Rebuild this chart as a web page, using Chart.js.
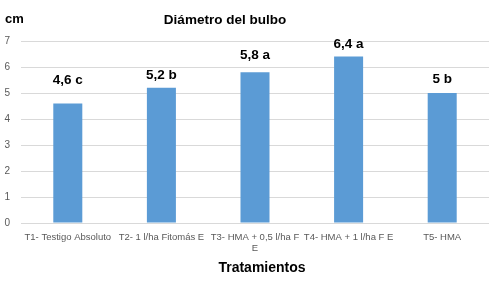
<!DOCTYPE html>
<html>
<head>
<meta charset="utf-8">
<script src="https://cdn.jsdelivr.net/npm/chart.js@4"></script>
<style>
html,body{margin:0;padding:0;background:#fff;}
#wrap{width:500px;height:290px;position:relative;}
</style>
</head>
<body>
<div id="wrap"><canvas id="c" width="500" height="290"></canvas></div>
<script>
const categories = [
  'T1- Testigo Absoluto',
  'T2- 1 l/ha Fitomás E',
  ['T3- HMA + 0,5 l/ha F', 'E'],
  'T4- HMA + 1 l/ha F E',
  'T5- HMA'
];
const values = [4.6, 5.2, 5.8, 6.4, 5.0];
const letters = ['c', 'b', 'a', 'a', 'b'];
const yTicks = [0, 1, 2, 3, 4, 5, 6, 7];

const chartTitle = 'Diámetro del bulbo';
const unitLabel = 'cm';
const xTitle = 'Tratamientos';

const tickFont = '"Liberation Sans", Arial, sans-serif';

const labelPlugin = {
  id: 'valueLabels',
  afterDatasetsDraw(chart, args, opts) {
    const ctx = chart.ctx;
    const meta = chart.getDatasetMeta(0);
    ctx.save();
    ctx.font = 'bold 13.5px "Liberation Sans", Arial, sans-serif';
    ctx.fillStyle = '#000';
    ctx.textAlign = 'center';
    ctx.textBaseline = 'middle';
    meta.data.forEach((bar, i) => {
      const v = values[i];
      const txt = String(v).replace('.', ',') + ' ' + letters[i];
      ctx.fillText(txt, bar.x, bar.y - opts.offsets[i]);
    });
    ctx.restore();
  }
};

const textPlugin = {
  id: 'headerTexts',
  afterDraw(chart) {
    const ctx = chart.ctx;
    ctx.save();
    ctx.fillStyle = '#000';
    ctx.textBaseline = 'middle';
    ctx.font = 'bold 13.5px "Liberation Sans", Arial, sans-serif';
    ctx.textAlign = 'center';
    ctx.fillText(chartTitle, 225, 20);
    ctx.font = 'bold 14px "Liberation Sans", Arial, sans-serif';
    ctx.fillText(xTitle, 262, 268);
    ctx.font = 'bold 13px "Liberation Sans", Arial, sans-serif';
    ctx.textAlign = 'left';
    ctx.fillText(unitLabel, 5, 19);
    ctx.restore();
  }
};

new Chart(document.getElementById('c'), {
  type: 'bar',
  data: {
    labels: categories,
    datasets: [{
      data: values,
      backgroundColor: '#5B9BD5',
      borderWidth: 0,
      categoryPercentage: 1,
      barPercentage: 0.31
    }]
  },
  options: {
    responsive: false,
    animation: false,
    layout: { padding: { top: 41, right: 11, left: 0, bottom: 0 } },
    plugins: {
      legend: { display: false },
      tooltip: { enabled: false },
      valueLabels: { offsets: [23, 13, 17, 12, 14] }
    },
    scales: {
      x: {
        grid: { display: false, drawTicks: false },
        border: { display: false },
        ticks: {
          autoSkip: false,
          maxRotation: 0,
          minRotation: 0,
          padding: 8,
          color: '#595959',
          font: { family: tickFont, size: 9.5, lineHeight: 1.25 }
        },
        afterFit(scale) { scale.height = 67; }
      },
      y: {
        min: 0,
        max: 7,
        afterBuildTicks(scale) { scale.ticks = yTicks.map(v => ({ value: v })); },
        grid: { color: '#d9d9d9', drawTicks: false, lineWidth: 1 },
        border: { display: false },
        ticks: {
          padding: 11,
          color: '#595959',
          font: { family: tickFont, size: 10 }
        },
        afterFit(scale) { scale.width = 21; }
      }
    }
  },
  plugins: [labelPlugin, textPlugin]
});
</script>
</body>
</html>
